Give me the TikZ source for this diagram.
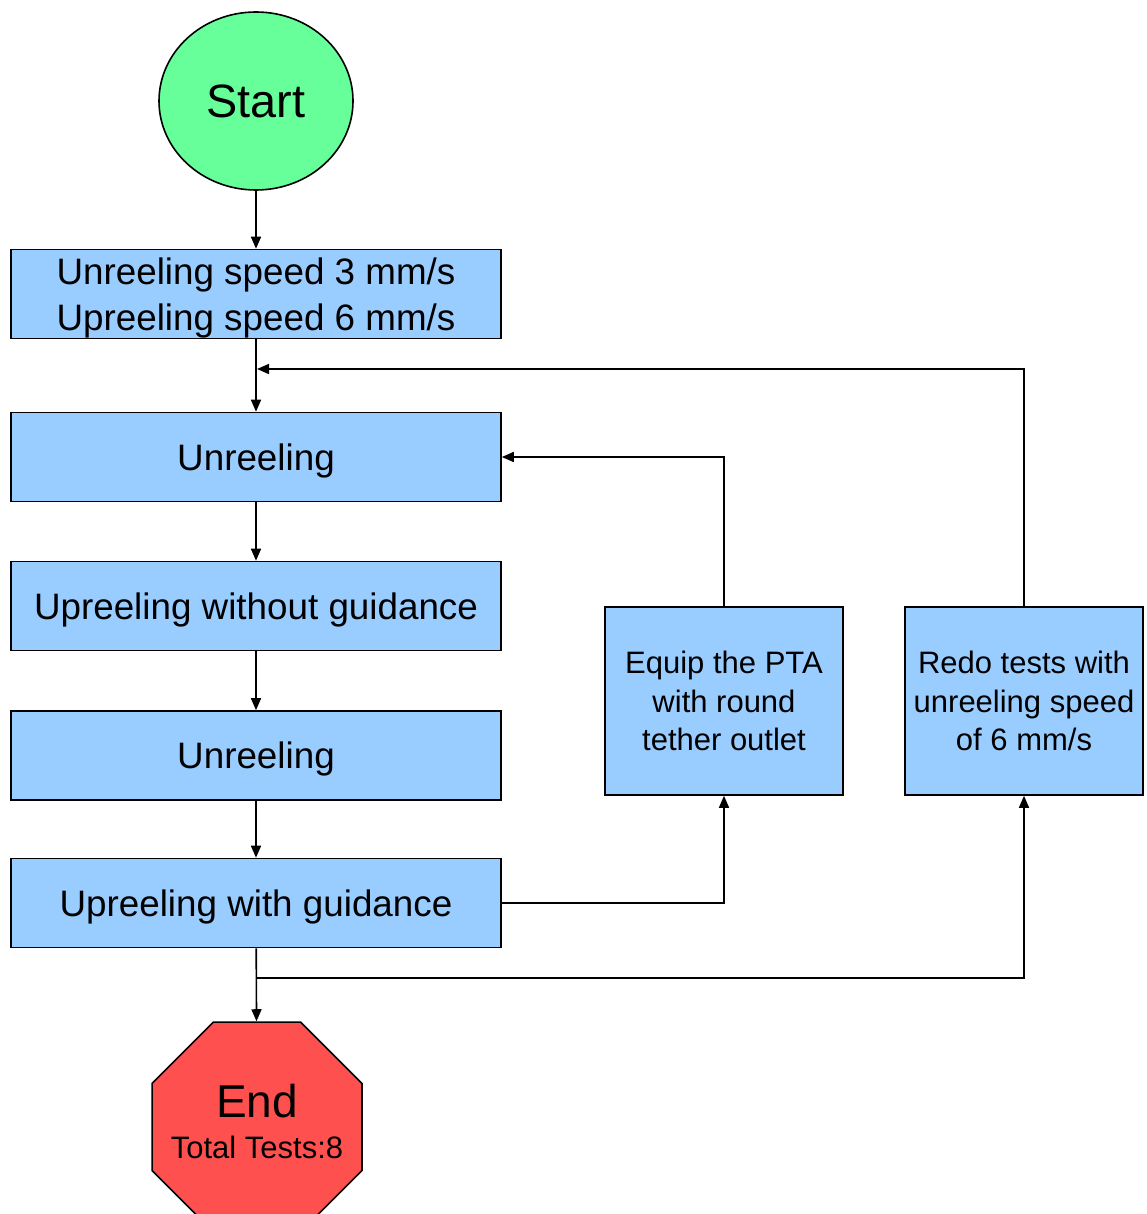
\documentclass[tikz,border=0pt]{standalone}
\usepackage{fontspec}
\setmainfont{Liberation Sans}
\usepackage{xcolor}
\usepackage{tikz}
\usetikzlibrary{arrows.meta,positioning,shapes.geometric}
\definecolor{startgreen}{HTML}{66FF99}
\definecolor{stepblue}{HTML}{99CCFF}
\definecolor{endred}{HTML}{FF5050}

\begin{document}
\begin{tikzpicture}[x=0.5pt, y=-0.5pt, >={Triangle[length=6pt,width=5pt]}, line width=0.8pt,
    box/.style={draw, fill=stepblue, text centered, text=black, minimum width=245pt, minimum height=44.5pt, inner sep=0pt, text depth=0pt, font=\fontsize{18.4}{23}\selectfont, align=center},
    sidebox/.style={draw, fill=stepblue, text centered, text=black, minimum width=119pt, minimum height=94pt, inner sep=0pt, font=\fontsize{15.5}{19.3}\selectfont, align=center}]
                        \useasboundingbox (0,0) rectangle (1146,1214);
                        \node[ellipse, draw, fill=startgreen, minimum width=97pt, minimum height=89pt, inner sep=0pt, font=\fontsize{23.4}{28}\selectfont] (start) at (256, 101) {Start};
                        \node[box] (speeds) at (256, 294) {Unreeling speed 3 mm/s\\Upreeling speed 6 mm/s};
                        \node[box] (unreel1) at (256, 457) {Unreeling};
                        \node[box] (upnoguide) at (256, 606) {Upreeling without guidance};
                        \node[box] (unreel2) at (256, 755.5) {Unreeling};
                        \node[box] (upguide) at (256, 903) {Upreeling with guidance};
                        \node[sidebox] (equip) at (724, 701) {Equip the PTA\\with round\\tether outlet};
                        \node[sidebox] (redo) at (1024, 701) {Redo tests with\\unreeling speed\\of 6 mm/s};
                        \node[regular polygon, regular polygon sides=8, draw, fill=endred, minimum size=113.6pt, inner sep=0pt] (end) at (257, 1127) {};
                        \node[font=\fontsize{23}{26}\selectfont, inner sep=0pt] (endtitle) at (257, 1101) {End};
                        \node[font=\fontsize{15.5}{18}\selectfont, inner sep=0pt] (endcount) at (257, 1147) {Total Tests:8};
                        \coordinate (loopin) at (257, 369);
                        \coordinate (loopout) at (257, 978);
                        \draw [->] (start) -- (speeds);
                        \draw [->] (speeds) -- (unreel1);
                        \draw [->] (unreel1) -- (upnoguide);
                        \draw [->] (upnoguide) -- (unreel2);
                        \draw [->] (unreel2) -- (upguide);
                        \draw [->] (upguide) -- (end);
                        \draw [->] (upguide.east) -| (equip.south);
                        \draw [->] (equip.north) |- (unreel1.east);
                        \draw [->] (loopout) -| (redo.south);
                        \draw [->] (redo.north) |- (loopin);
                        \end{tikzpicture}
\end{document}
